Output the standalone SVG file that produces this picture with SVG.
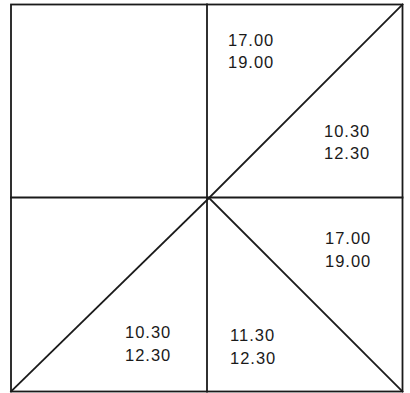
<svg xmlns="http://www.w3.org/2000/svg" width="410" height="393" viewBox="0 0 410 393">
<style>
.ln{stroke:#1a1a1a;stroke-width:1.8;fill:none;stroke-linecap:square}
.tx{font-family:"Liberation Sans",Arial,sans-serif;font-size:16.5px;fill:#1a1a1a;letter-spacing:1px}
</style>
<rect width="410" height="393" fill="#fff"/>
<g id="connectors">
<rect class="ln" x="11" y="4.5" width="391.5" height="387"/>
<line class="ln" x1="207" y1="4.5" x2="207" y2="391.5"/>
<line class="ln" x1="11" y1="197.5" x2="402.5" y2="197.5"/>
<line class="ln" x1="209" y1="198" x2="402.5" y2="4.5"/>
<line class="ln" x1="209" y1="198" x2="11" y2="391.5"/>
<line class="ln" x1="209" y1="198" x2="402.5" y2="391.5"/>
</g>
<g id="n1"><text class="tx" x="228" y="46">17.00</text><text class="tx" x="228" y="68">19.00</text></g>
<g id="n2"><text class="tx" x="324" y="137">10.30</text><text class="tx" x="324" y="159">12.30</text></g>
<g id="n3"><text class="tx" x="325" y="244">17.00</text><text class="tx" x="325" y="267">19.00</text></g>
<g id="n4"><text class="tx" x="125" y="338">10.30</text><text class="tx" x="125" y="361">12.30</text></g>
<g id="n5"><text class="tx" x="230" y="341">11.30</text><text class="tx" x="230" y="364">12.30</text></g>
</svg>
